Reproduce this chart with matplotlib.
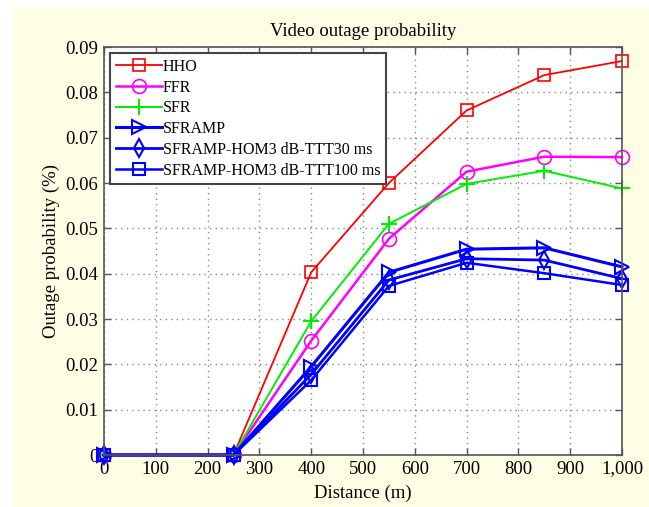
#!/usr/bin/env python3

import matplotlib
matplotlib.use("Agg")
import matplotlib.pyplot as plt
from matplotlib.patches import Rectangle
from matplotlib.ticker import FuncFormatter

# ─── Data ──────────────────────────────────────────────────────────────────────
DISTANCE = [0, 250, 400, 550, 700, 850, 1000]

HHO      = [0, 0, 0.0403, 0.0600, 0.0760, 0.0838, 0.0869]
FFR      = [0, 0, 0.0252, 0.0477, 0.0625, 0.0658, 0.0657]
SFR      = [0, 0, 0.0295, 0.0510, 0.0598, 0.0627, 0.0588]
SFRAMP   = [0, 0, 0.0195, 0.0403, 0.0454, 0.0457, 0.0415]
HOM_30   = [0, 0, 0.0178, 0.0386, 0.0433, 0.0430, 0.0389]
HOM_100  = [0, 0, 0.0165, 0.0373, 0.0424, 0.0401, 0.0375]

LABELS = ["HHO", "FFR", "SFR", "SFRAMP",
          "SFRAMP-HOM3 dB-TTT30 ms", "SFRAMP-HOM3 dB-TTT100 ms"]

X_TICKS = [0, 100, 200, 300, 400, 500, 600, 700, 800, 900, 1000]
Y_TICKS = [0, 0.01, 0.02, 0.03, 0.04, 0.05, 0.06, 0.07, 0.08, 0.09]

# ─── Style ─────────────────────────────────────────────────────────────────────
plt.rcParams['font.family'] = ['Liberation Serif', 'DejaVu Serif']

FIG_W, FIG_H = 649, 507
fig = plt.figure(figsize=(FIG_W / 100, FIG_H / 100), dpi=100, facecolor='white')
# cream backdrop, white strip on top and left
fig.patches.append(Rectangle((13 / FIG_W, 0), 1, 1 - 8 / FIG_H,
                             transform=fig.transFigure, facecolor='#fefee4',
                             edgecolor='none', zorder=-10))

ax = fig.add_axes([104 / FIG_W, 52 / FIG_H, 518 / FIG_W, 408 / FIG_H])
ax.set_facecolor('white')

# (values, colour, marker, line width, marker size, marker edge width)
series = [
    (HHO,     'red',     's', 1.3, 9,  1.2),
    (FFR,     '#ff00ff', 'o', 1.8, 10, 1.2),
    (SFR,     '#00ee00', '+', 1.4, 11, 1.5),
    (SFRAMP,  'blue',    '>', 2.2, 10, 1.5),
    (HOM_30,  'blue',    'd', 2.0, 9,  1.5),
    (HOM_100, 'blue',    's', 1.8, 8,  1.5),
]

for (vals, color, mk, lw, ms, mew), label in zip(series, LABELS):
    ax.plot(DISTANCE, vals, color=color, marker=mk, lw=lw, ms=ms,
            mfc='none', mec=color, mew=mew, label=label, clip_on=False)

ax.set_xlim(0, 1000)
ax.set_ylim(0, 0.09)
ax.set_xticks(X_TICKS)
ax.set_yticks(Y_TICKS)
ax.xaxis.set_major_formatter(FuncFormatter(lambda v, p: f"{int(v):,}"))
ax.yaxis.set_major_formatter(FuncFormatter(lambda v, p: "0" if v == 0 else f"{v:.2f}"))

ax.grid(True, color='#888888', linestyle=(0, (1, 3)), linewidth=1.0)
ax.tick_params(direction='in', top=True, right=True, length=5, width=1,
               color='#555555', labelsize=13.5, pad=4)
for sp in ax.spines.values():
    sp.set_color('#555555')
    sp.set_linewidth(1.2)

ax.set_title("Video outage probability", fontsize=13.5, pad=8)
ax.set_xlabel("Distance (m)", fontsize=13.5, labelpad=5)
ax.set_ylabel("Outage probability (%)", fontsize=13.5, labelpad=4)

leg = ax.legend(loc='upper left', bbox_to_anchor=(0.012, 0.985),
                fontsize=11.5, handlelength=2.9, handletextpad=0.05,
                labelspacing=0.3, borderpad=0.35, borderaxespad=0,
                fancybox=False, framealpha=1)
leg.get_frame().set_edgecolor('#444444')
leg.get_frame().set_linewidth(1.5)

fig.savefig("out.png", dpi=100, facecolor=fig.get_facecolor())
